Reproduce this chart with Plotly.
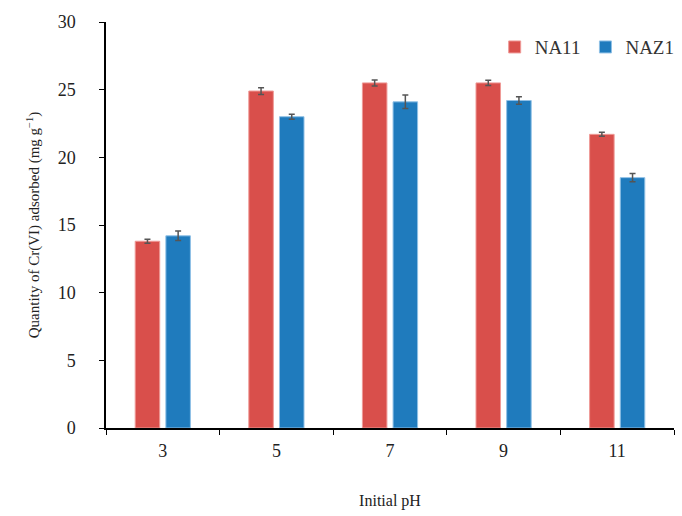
import plotly.graph_objects as go

categories = ["3", "5", "7", "9", "11"]
na11 = [13.8, 24.9, 25.5, 25.5, 21.7]
na11_err = [0.15, 0.25, 0.22, 0.2, 0.15]
naz1 = [14.2, 23.0, 24.1, 24.2, 18.5]
naz1_err = [0.35, 0.18, 0.5, 0.27, 0.3]

font_family = "Liberation Serif, Times New Roman, serif"

fig = go.Figure()
fig.add_trace(go.Bar(
    x=categories, y=na11, name="NA11",
    marker=dict(color="#d94f4b", line=dict(color="#ef9a97", width=1)),
    error_y=dict(type="data", array=na11_err, color="#555555", thickness=1.5, width=3),
))
fig.add_trace(go.Bar(
    x=categories, y=naz1, name="NAZ1",
    marker=dict(color="#1f7bbd", line=dict(color="#8fc0e6", width=1)),
    error_y=dict(type="data", array=naz1_err, color="#555555", thickness=1.5, width=3),
))

fig.update_layout(
    width=682, height=516,
    margin=dict(l=106, r=2, t=22, b=88),
    plot_bgcolor="white", paper_bgcolor="white",
    barmode="group", bargap=0.46, bargroupgap=0.2,
    font=dict(family=font_family, color="#222222"),
    legend=dict(
        orientation="h", x=1.01, xanchor="right", y=0.985, yanchor="top",
        font=dict(size=19, family=font_family, color="#333333"),
        itemwidth=30, bgcolor="rgba(0,0,0,0)",
    ),
    xaxis=dict(
        type="category",
        showline=True, linecolor="black", linewidth=1.5,
        ticks="outside", tickson="boundaries", ticklen=5, tickcolor="black",
        ticklabelstandoff=6,
        tickfont=dict(size=18, family=font_family, color="#222222"),
        title=dict(text="Initial pH", font=dict(size=16, family=font_family), standoff=34),
        showgrid=False,
    ),
    yaxis=dict(
        range=[0, 30], dtick=5,
        showline=True, linecolor="black", linewidth=1.5,
        ticks="outside", ticklen=5, tickcolor="black",
        ticklabelstandoff=20,
        tickfont=dict(size=18, family=font_family, color="#222222"),
        title=dict(text="Quantity of Cr(VI) adsorbed (mg g<sup>\u22121</sup>)",
                   font=dict(size=15, family=font_family), standoff=14),
        showgrid=False, zeroline=False,
    ),
)

fig.write_html("out.html")
